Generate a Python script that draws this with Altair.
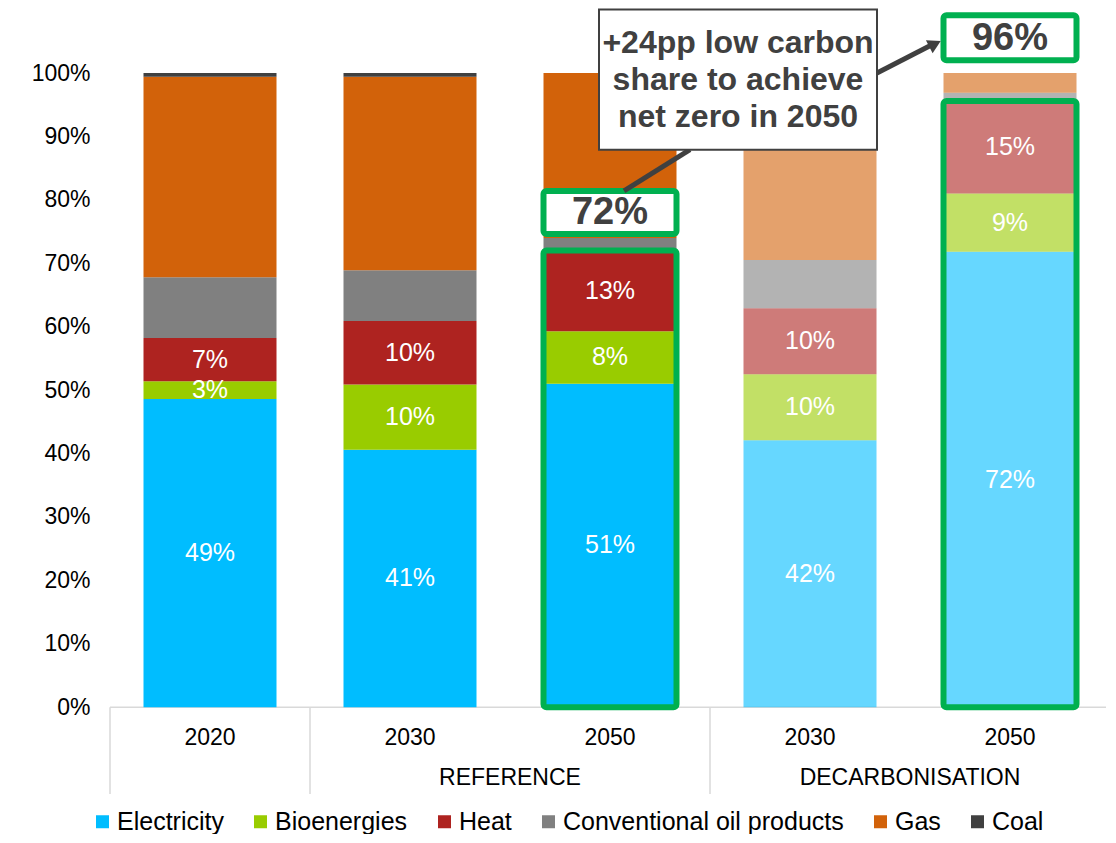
import altair as alt
import pandas as pd

# ---------------- data ----------------
positions = [0, 1, 2, 3, 4]
years = ["2020", "2030", "2050", "2030", "2050"]
scenario = ["base", "base", "base", "decarb", "decarb"]
groups = ["REFERENCE", "DECARBONISATION"]
group_pos = [1.5, 3.5]
separators = [-0.5, 0.5, 2.5]

types = ["Electricity", "Bioenergies", "Heat", "Conventional oil products", "Gas", "Coal"]
colors = ["#00BDFF", "#99CC00", "#AE2320", "#808080", "#D2620A", "#404040"]

electricity = [48.6, 40.6, 51.0, 42.1, 71.8]
bioenergies = [2.8, 10.3, 8.3, 10.4, 9.2]
heat = [6.8, 10.0, 12.7, 10.4, 14.6]
oil = [9.6, 8.0, 2.0, 7.6, 1.3]
gas = [31.6, 30.5, 26.0, 29.5, 3.1]
coal = [0.6, 0.6, 0.0, 0.0, 0.0]

labels_electricity = ["49%", "41%", "51%", "42%", "72%"]
labels_bioenergies = ["3%", "10%", "8%", "10%", "9%"]
labels_heat = ["7%", "10%", "13%", "10%", "15%"]

# low-carbon highlight boxes
hl_pos = [2, 4]
hl_top = [72.0, 95.6]
hl_text = ["72%", "96%"]
hl_label_bottom = [74.6, 102.0]
hl_label_top = [81.4, 109.1]
hl_label_y = [77.9, 105.4]

# annotation
note_lines = ["+24pp low carbon", "share to achieve", "net zero in 2050"]
note_x = [1.945, 3.335]
note_y = [87.9, 110.0]
note_first_line_y = 104.7
arrow1 = {"x": 2.07, "y": 81.4, "x2": 2.40, "y2": 87.9}
arrow2 = {"x": 3.335, "y": 100.0, "x2": 3.60, "y2": 104.3}
arrow_head = {"x": 3.625, "y": 104.6}

# ---------------- build tables ----------------
series = [electricity, bioenergies, heat, oil, gas, coal]
label_lists = [labels_electricity, labels_bioenergies, labels_heat, None, None, None]
rows = []
for i, p in enumerate(positions):
    base = 0.0
    for k, t in enumerate(types):
        v = series[k][i]
        lab = label_lists[k][i] if label_lists[k] is not None else ""
        rows.append({"pos": p, "type": t, "order": k, "value": v,
                     "y0": base, "y1": base + v, "mid": base + v / 2,
                     "label": lab, "scenario": scenario[i]})
        base += v
df = pd.DataFrame(rows)
df = df[df["value"] > 0]

HALF = 0.3325
FONT = "Liberation Sans"
GREEN = "#00B050"
DARK = "#404040"

xs = alt.Scale(domain=[-0.5, 4.48], nice=False, zero=False)
ys = alt.Scale(domain=[-14, 110.25], nice=False, zero=False)
yaxis = alt.Axis(values=list(range(0, 101, 10)), labelExpr="datum.value + '%'",
                 domain=False, ticks=False, grid=False, labelFontSize=23,
                 labelFont=FONT, labelColor="black", labelPadding=20, title=None)


def X(f):
    return alt.X(f, type="quantitative", scale=xs, axis=None)


def Y(f):
    return alt.Y(f, type="quantitative", scale=ys, axis=yaxis)


# axis line & separators
axis_df = pd.DataFrame({"x": [-0.5], "x2": [4.48], "y": [0]})
axis_line = alt.Chart(axis_df).mark_rule(color="#D9D9D9", strokeWidth=1.5).encode(
    x=X("x"), x2="x2", y=Y("y"))

sep_df = pd.DataFrame({"x": separators, "y": [0] * len(separators), "y2": [-13.7] * len(separators)})
sep_lines = alt.Chart(sep_df).mark_rule(color="#D9D9D9", strokeWidth=1.5).encode(
    x=X("x"), y=Y("y"), y2="y2")

bars = alt.Chart(df).transform_calculate(
    xa=f"datum.pos - {HALF}", xb=f"datum.pos + {HALF}"
).mark_bar().encode(
    x=X("xa"), x2="xb", y=Y("y0"), y2="y1",
    color=alt.Color("type:N", scale=alt.Scale(domain=types, range=colors),
                    legend=alt.Legend(orient="none", legendX=-20, legendY=801,
                                      direction="horizontal", title=None,
                                      symbolType="square", symbolSize=169,
                                      symbolStrokeWidth=0, symbolOpacity=1,
                                      labelFontSize=25, labelFont=FONT,
                                      labelColor="black", labelLimit=500,
                                      columnPadding=24, labelOffset=2, padding=0)),
    opacity=alt.Opacity("scenario:N", scale=alt.Scale(domain=["base", "decarb"], range=[1, 0.6]),
                        legend=None),
    order=alt.Order("order:Q"),
)

bar_labels = alt.Chart(df[df["label"] != ""]).mark_text(
    color="white", fontSize=25, font=FONT, baseline="middle", align="center"
).encode(x=X("pos"), y=Y("mid"), text="label:N")

hl_df = pd.DataFrame({"pos": hl_pos, "top": hl_top, "text": hl_text,
                      "lb": hl_label_bottom, "lt": hl_label_top, "ly": hl_label_y,
                      "zero": [0, 0]})
hl_boxes = alt.Chart(hl_df).transform_calculate(
    xa=f"datum.pos - {HALF}", xb=f"datum.pos + {HALF}"
).mark_rect(filled=False, stroke=GREEN, strokeWidth=6, cornerRadius=3).encode(
    x=X("xa"), x2="xb", y=Y("zero"), y2="top")

hl_label_boxes = alt.Chart(hl_df).transform_calculate(
    xa=f"datum.pos - {HALF}", xb=f"datum.pos + {HALF}"
).mark_rect(fill="white", stroke=GREEN, strokeWidth=6, cornerRadius=3).encode(
    x=X("xa"), x2="xb", y=Y("lb"), y2="lt")

hl_labels = alt.Chart(hl_df).mark_text(
    color=DARK, fontSize=38, fontWeight="bold", font=FONT, baseline="middle", align="center"
).encode(x=X("pos"), y=Y("ly"), text="text:N")

# arrows
arr_df = pd.DataFrame([arrow1, arrow2])
arrows = alt.Chart(arr_df).mark_rule(color=DARK, strokeWidth=5).encode(
    x=X("x"), y=Y("y"), x2="x2", y2="y2")
head_df = pd.DataFrame([arrow_head])
head = alt.Chart(head_df).mark_point(shape="triangle-up", filled=True, color=DARK,
                                     size=220, angle=63, opacity=1).encode(
    x=X("x"), y=Y("y"))

note_df = pd.DataFrame({"x": [note_x[0]], "x2": [note_x[1]], "y": [note_y[0]], "y2": [note_y[1]],
                        "cx": [(note_x[0] + note_x[1]) / 2], "ty": [note_first_line_y],
                        "joined": ["|".join(note_lines)]})
note_box = alt.Chart(note_df).mark_rect(fill="white", stroke=DARK, strokeWidth=2).encode(
    x=X("x"), x2="x2", y=Y("y"), y2="y2")
note_text = alt.Chart(note_df).transform_calculate(
    txt="split(datum.joined, '|')"
).mark_text(color=DARK, fontSize=32, fontWeight="bold", font=FONT,
            baseline="middle", align="center", lineHeight=37).encode(
    x=X("cx"), y=Y("ty"), text="txt:N")

# category labels
year_df = pd.DataFrame({"pos": positions, "year": years, "y": [-4.9] * 5})
year_text = alt.Chart(year_df).mark_text(
    color="black", fontSize=23, font=FONT, baseline="middle", align="center"
).encode(x=X("pos"), y=Y("y"), text="year:N")

group_df = pd.DataFrame({"pos": group_pos, "name": groups, "y": [-11.2] * 2})
group_text = alt.Chart(group_df).mark_text(
    color="black", fontSize=23, font=FONT, baseline="middle", align="center"
).encode(x=X("pos"), y=Y("y"), text="name:N")

chart = alt.layer(
    axis_line, sep_lines, bars, bar_labels, hl_boxes, hl_label_boxes, hl_labels,
    arrows, head, note_box, note_text, year_text, group_text
).properties(
    width=996, height=788,
    autosize=alt.AutoSizeParams(type="none"),
    padding={"left": 102, "top": 0, "right": 0, "bottom": 38},
).configure_view(stroke=None)

chart.save("out.html", embed_options={"renderer": "svg", "actions": False})
